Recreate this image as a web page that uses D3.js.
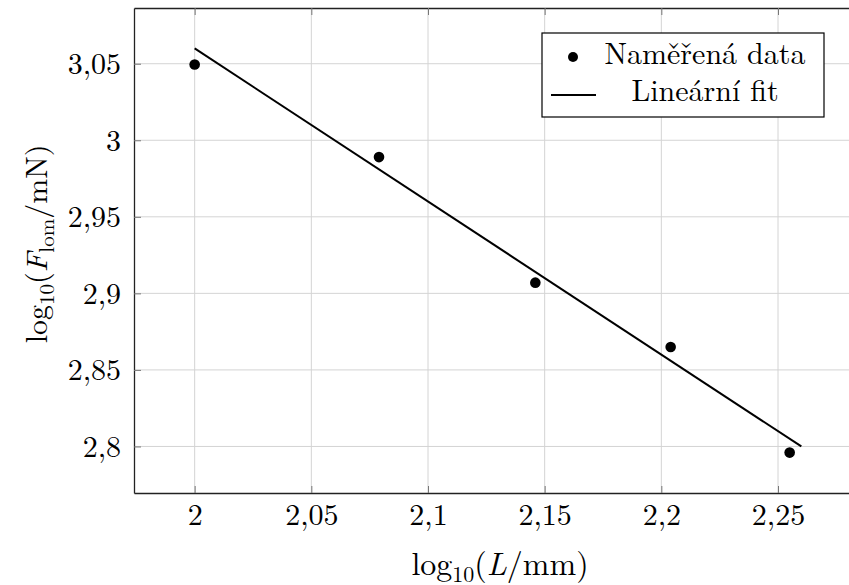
<!DOCTYPE html>
<html>
<head>
<meta charset="utf-8">
<script src="https://cdn.jsdelivr.net/npm/d3@7"></script>
</head>
<body style="margin:0; background:#fff;">
<div id="chart"></div>
<script>
// measured data: log10(L/mm) vs log10(F_lom/mN)
const logL = [2.0, 2.079, 2.146, 2.204, 2.255];
const logF = [3.0495, 2.989, 2.907, 2.865, 2.796];
// linear fit endpoints
const fitX = [2.0, 2.26];
const fitY = [3.06, 2.80];
const xTicks = [2, 2.05, 2.1, 2.15, 2.2, 2.25];
const yTicks = [2.8, 2.85, 2.9, 2.95, 3, 3.05];
const legendLabels = ["Naměřená data", "Lineární fit"];

const FONT = "'Latin Modern Roman', 'Liberation Serif', serif";
const W = 849, H = 585;
const margin = { top: 8, right: -13, bottom: 92, left: 134 };
const width = W - margin.left - margin.right,
      height = H - margin.top - margin.bottom;

const svg = d3.select("#chart")
  .append("svg")
  .attr("width", W)
  .attr("height", H)
  .append("g")
  .attr("transform", `translate(${margin.left}, ${margin.top})`);

const x = d3.scaleLinear().domain([1.974, 2.286]).range([0, width]);
const y = d3.scaleLinear().domain([2.7696, 3.0864]).range([height, 0]);

const fmt = d => String(d).replace(".", ",");

// grid
svg.append("g")
  .selectAll("line")
  .data(xTicks)
  .join("line")
  .attr("x1", d => x(d)).attr("x2", d => x(d))
  .attr("y1", 0).attr("y2", height)
  .style("stroke", "#d4d4d4").style("stroke-width", 1);
svg.append("g")
  .selectAll("line")
  .data(yTicks)
  .join("line")
  .attr("x1", 0).attr("x2", width)
  .attr("y1", d => y(d)).attr("y2", d => y(d))
  .style("stroke", "#d4d4d4").style("stroke-width", 1);

// axes with inward ticks
const xAxis = svg.append("g")
  .attr("transform", `translate(0, ${height})`)
  .call(d3.axisBottom(x).tickValues(xTicks).tickFormat(fmt).tickSizeInner(-7).tickSizeOuter(0));
const xTop = svg.append("g")
  .call(d3.axisTop(x).tickValues(xTicks).tickFormat("").tickSizeInner(-7).tickSizeOuter(0));
const yAxis = svg.append("g")
  .call(d3.axisLeft(y).tickValues(yTicks).tickFormat(fmt).tickSizeInner(-7).tickSizeOuter(0));

[xAxis, xTop, yAxis].forEach(g => {
  g.attr("font-family", null).attr("font-size", null);
  g.select(".domain").style("stroke", "#222").style("stroke-width", 1.3);
  g.selectAll(".tick line").style("stroke", "#777").style("stroke-width", 1);
  g.selectAll(".tick text").style("font-size", "30px").style("font-family", FONT).style("fill", "#000");
});
xAxis.selectAll(".tick text").attr("y", 32).attr("dy", null);
yAxis.selectAll(".tick text").attr("x", -13).attr("dy", "0.33em");

// fit line
svg.append("path")
  .datum(fitX.map((d, i) => [d, fitY[i]]))
  .attr("d", d3.line().x(d => x(d[0])).y(d => y(d[1])))
  .style("fill", "none").style("stroke", "#000").style("stroke-width", 2);

// points
svg.append("g")
  .selectAll("circle")
  .data(logL)
  .join("circle")
  .attr("cx", d => x(d))
  .attr("cy", (d, i) => y(logF[i]))
  .attr("r", 5.3)
  .style("fill", "#000");

// legend
const lg = svg.append("g").attr("transform", `translate(${542 - margin.left}, ${33 - margin.top})`);
lg.append("rect").attr("width", 282).attr("height", 84)
  .style("fill", "#fff").style("stroke", "#000").style("stroke-width", 1.2);
lg.append("circle").attr("cx", 31).attr("cy", 24).attr("r", 5).style("fill", "#000");
lg.append("line").attr("x1", 9).attr("x2", 54).attr("y1", 62).attr("y2", 62)
  .style("stroke", "#000").style("stroke-width", 2);
lg.selectAll("text.lab")
  .data(legendLabels)
  .join("text")
  .attr("class", "lab")
  .attr("x", 163)
  .attr("y", (d, i) => 31 + i * 37)
  .attr("text-anchor", "middle")
  .style("font-family", FONT)
  .style("font-size", "30px")
  .text(d => d);

// axis labels
const xl = svg.append("text")
  .attr("x", 500 - margin.left)
  .attr("y", 575 - margin.top)
  .attr("text-anchor", "middle")
  .style("font-family", FONT)
  .style("font-size", "32px");
xl.append("tspan").text("log");
xl.append("tspan").attr("dy", 7).style("font-size", "22px").text("10");
xl.append("tspan").attr("dy", -7).text("(");
xl.append("tspan").style("font-style", "italic").text("L");
xl.append("tspan").text("/mm)");

const yl = svg.append("text")
  .attr("transform", `translate(${47 - margin.left}, ${244 - margin.top}) rotate(-90)`)
  .attr("text-anchor", "middle")
  .style("font-family", FONT)
  .style("font-size", "30px");
yl.append("tspan").text("log");
yl.append("tspan").attr("dy", 7).style("font-size", "21px").text("10");
yl.append("tspan").attr("dy", -7).text("(");
yl.append("tspan").style("font-style", "italic").text("F");
yl.append("tspan").attr("dy", 7).style("font-size", "21px").text("lom");
yl.append("tspan").attr("dy", -7).text("/mN)");
</script>
</body>
</html>
